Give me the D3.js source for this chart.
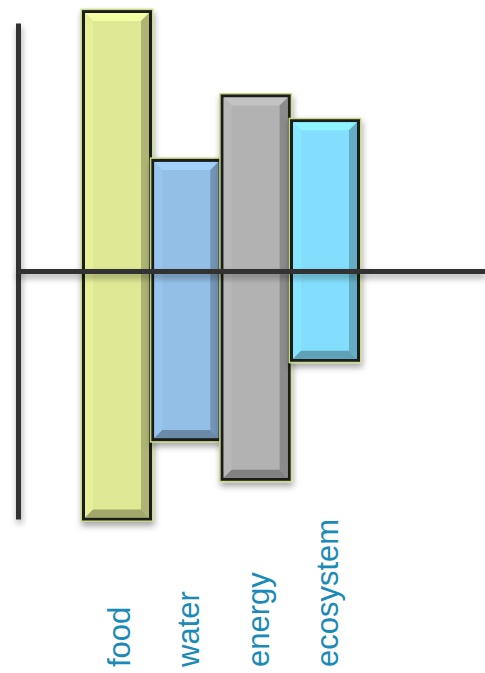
<!DOCTYPE html>
<html>
<head>
<meta charset="utf-8">
<script src="https://cdn.jsdelivr.net/npm/d3@7"></script>
<style>
  html, body { margin: 0; padding: 0; background: #ffffff; }
  svg { display: block; }
</style>
</head>
<body>
<svg id="chart" width="485" height="673"></svg>
<script>
// ---- data ----
const categories = ["food", "water", "energy", "ecosystem"];
const lowValues  = [-101, -69, -85, -37];
const highValues = [106, 46, 72, 62];
const barColors  = ["#dfe894", "#93bee6", "#b2b2b2", "#82defc"];

// ---- layout ----
const W = 485, H = 673;
const svg = d3.select("#chart");

const y = d3.scaleLinear().domain([-100, 100]).range([519.5, 23.5]);
const x = d3.scalePoint().domain(categories).range([117, 325]);
const barW = 73;

const defs = svg.append("defs");
const sh = defs.append("filter").attr("id", "shadow")
  .attr("filterUnits", "userSpaceOnUse")
  .attr("x", 0).attr("y", 0).attr("width", W).attr("height", H);
sh.append("feDropShadow").attr("dx", 1).attr("dy", 4).attr("stdDeviation", 3)
  .attr("flood-color", "#000").attr("flood-opacity", 0.35);

const data = categories.map((c, i) => ({ c, lo: lowValues[i], hi: highValues[i], color: barColors[i] }));

// vertical axis line
svg.append("rect")
  .attr("x", 16).attr("width", 5)
  .attr("y", y(100)).attr("height", y(-100) - y(100))
  .attr("fill", "#333")
  .attr("filter", "url(#shadow)");

// bars
const bars = svg.append("g").selectAll("g").data(data).join("g")
  .attr("filter", "url(#shadow)");

bars.each(function(d) {
  const g = d3.select(this);
  const x0 = x(d.c) - barW / 2, x1 = x(d.c) + barW / 2;
  const y0 = y(d.hi), y1 = y(d.lo);
  // outer light rim
  g.append("rect")
    .attr("x", x0).attr("y", y0).attr("width", x1 - x0).attr("height", y1 - y0)
    .attr("fill", "#c9d98a");
  // dark border
  g.append("rect")
    .attr("x", x0 + 1.5).attr("y", y0 + 1.5).attr("width", x1 - x0 - 3).attr("height", y1 - y0 - 3)
    .attr("fill", "#1e1e1e");
  // fill
  const ix0 = x0 + 4.5, ix1 = x1 - 4.5, iy0 = y0 + 4.5, iy1 = y1 - 4.5;
  g.append("rect")
    .attr("x", ix0).attr("y", iy0).attr("width", ix1 - ix0).attr("height", iy1 - iy0)
    .attr("fill", d.color);
  const b = 8;
  const base = d3.color(d.color);
  const bevels = [
    { pts: [[ix0, iy0], [ix1, iy0], [ix1 - b, iy0 + b], [ix0 + b, iy0 + b]], col: base.brighter(0.25) },
    { pts: [[ix0, iy0], [ix0 + b, iy0 + b], [ix0 + b, iy1 - b], [ix0, iy1]], col: base.brighter(0.1) },
    { pts: [[ix1, iy0], [ix1, iy1], [ix1 - b, iy1 - b], [ix1 - b, iy0 + b]], col: base.darker(0.7) },
    { pts: [[ix0, iy1], [ix1, iy1], [ix1 - b, iy1 - b], [ix0 + b, iy1 - b]], col: base.darker(0.9) }
  ];
  bevels.forEach(bv => {
    g.append("path")
      .attr("d", d3.line()(bv.pts) + "Z")
      .attr("fill", bv.col.formatHex());
  });
});

// horizontal axis line (zero)
svg.append("rect")
  .attr("x", 16).attr("width", W - 16)
  .attr("y", y(0) - 2.5).attr("height", 5)
  .attr("fill", "#333")
  .attr("filter", "url(#shadow)");

// category labels
svg.append("g").selectAll("text").data(categories).join("text")
  .attr("transform", c => `translate(${x(c) + 13},667) rotate(-90)`)
  .attr("text-anchor", "start")
  .attr("font-family", "Liberation Sans, Arial, sans-serif")
  .attr("font-size", 31)
  .attr("fill", "#1a8ab8")
  .text(c => c);
</script>
</body>
</html>
